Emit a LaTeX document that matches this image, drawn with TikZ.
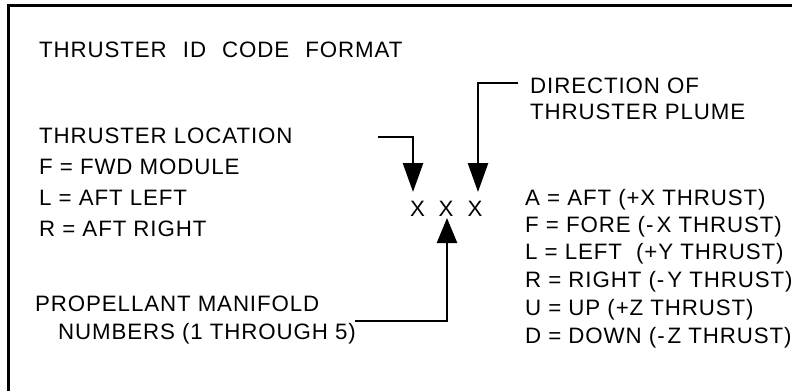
\documentclass[tikz,border=0pt]{standalone}
\usepackage{fontspec}
\setmainfont{Liberation Sans}[LetterSpace=4]
\usetikzlibrary{arrows.meta}
\newcommand{\mn}{\kern1pt-\kern3pt}
\newcommand{\wsp}{\ \kern9pt}
\begin{document}
\begin{tikzpicture}[x=1pt,y=-1pt,
  lbl/.style={anchor=base west,inner sep=0pt,font=\fontsize{22.3}{26}\selectfont},
  xmark/.style={anchor=base,inner sep=0pt,font=\fontsize{22.3}{26}\selectfont},
  conn/.style={line width=2.6pt},
  tipA/.style={-{Triangle[length=29pt,width=20pt]}},
  tipB/.style={-{Triangle[length=25pt,width=20pt]}}]
\useasboundingbox (0,0) rectangle (792,391);
% frame
\draw[line width=3pt] (8,391) -- (8,5.5) -- (792,5.5);
% title and left list
\node[lbl] (title) at (39,57.5) {THRUSTER\wsp ID\wsp CODE\wsp FORMAT};
\node[lbl] (loc) at (39,143) {THRUSTER LOCATION};
\node[lbl] (lf) at (39,174) {F = FWD MODULE};
\node[lbl] (ll) at (39,205) {L = AFT LEFT};
\node[lbl] (lr) at (39,236) {R = AFT RIGHT};
\node[lbl] (prop) at (35,311) {PROPELLANT MANIFOLD};
\node[lbl] (num) at (58,339) {NUMBERS (1 THROUGH 5)};
% direction label
\node[lbl] (dir) at (530,93) {DIRECTION OF};
\node[lbl] (plume) at (530,119) {THRUSTER PLUME};
% right list
\node[lbl] (ra) at (525,205) {A = AFT (+X THRUST)};
\node[lbl] (rf) at (525,232) {F = FORE (\mn X THRUST)};
\node[lbl] (rl) at (525,259) {L = LEFT \ (+Y THRUST)};
\node[lbl] (rr) at (525,287) {R = RIGHT (\mn Y THRUST)};
\node[lbl] (ru) at (525,315) {U = UP (+Z THRUST)};
\node[lbl] (rd) at (525,343) {D = DOWN (\mn Z THRUST)};
% code letters
\node[xmark] (x1) at (417.5,216.5) {X};
\node[xmark] (x2) at (446,216.5) {X};
\node[xmark] (x3) at (475,216.5) {X};
% connectors
\coordinate (c1) at (378,137);
\coordinate (t1) at (413,192);
\draw[conn,tipA] (c1) -| (t1);
\coordinate (c2) at (518,83);
\coordinate (t2) at (478,192);
\draw[conn,tipA] (c2) -| (t2);
\coordinate (c3) at (355,321);
\coordinate (t3) at (447,218);
\draw[conn,tipB] (c3) -| (t3);
\end{tikzpicture}
\end{document}
